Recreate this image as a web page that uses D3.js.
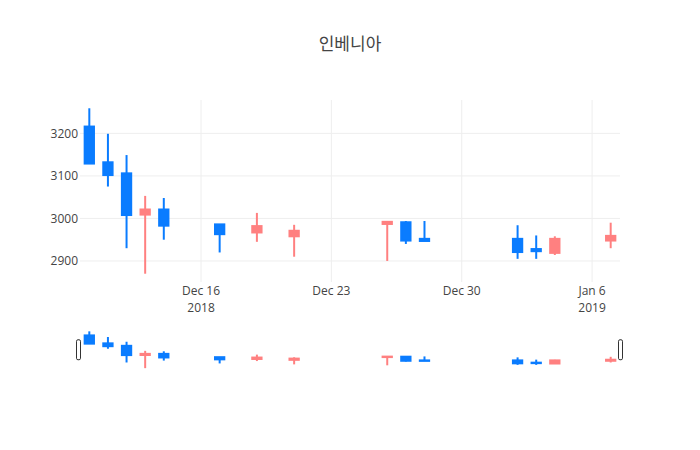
<!DOCTYPE html>
<html>
<head>
<meta charset="utf-8">
<script src="https://cdn.jsdelivr.net/npm/d3@7"></script>
<style>
  html, body { margin: 0; padding: 0; background: #fff; }
  svg { display: block; font-family: "Open Sans", "Noto Sans CJK KR", sans-serif; }
</style>
</head>
<body>
<svg id="chart" width="700" height="450"></svg>
<script>
const title = "인베니아";
const dates = ["2018-12-10","2018-12-11","2018-12-12","2018-12-13","2018-12-14","2018-12-17","2018-12-19","2018-12-21","2018-12-26","2018-12-27","2018-12-28","2019-01-02","2019-01-03","2019-01-04","2019-01-07"];
const openV  = [3216, 3132, 3106, 3009, 3021, 2986, 2967, 2958, 2987, 2991, 2952, 2952, 2928, 2919, 2948];
const highV  = [3259, 3199, 3149, 3053, 3048, 2986, 3013, 2985, 2992, 2994, 2994, 2984, 2960, 2958, 2990];
const lowV   = [3129, 3075, 2930, 2870, 2950, 2920, 2945, 2910, 2900, 2940, 2947, 2905, 2905, 2914, 2930];
const closeV = [3129, 3102, 3008, 3021, 2983, 2963, 2982, 2971, 2992, 2948, 2947, 2921, 2923, 2952, 2959];
const yTicks = [2900, 3000, 3100, 3200];
const xTickDates = ["2018-12-16","2018-12-23","2018-12-30","2019-01-06"];
const xTickLabels = [["Dec 16","2018"],["Dec 23"],["Dec 30"],["Jan 6","2019"]];

const incColor = "#ff8080";
const decColor = "#0a7cff";

const svg = d3.select("#chart");
const W = 700, H = 450;
const plot = {left: 80, right: 620, top: 100, bottom: 282};
const slider = {top: 329.5, bottom: 370};

const DAY = 86400000;
const parse = d3.utcParse("%Y-%m-%d");
const data = dates.map((d, i) => ({date: parse(d), o: openV[i], h: highV[i], l: lowV[i], c: closeV[i]}));

const x = d3.scaleUtc()
  .domain([new Date(+data[0].date - DAY/2), new Date(+data[data.length-1].date + DAY/2)])
  .range([plot.left, plot.right]);

const minV = d3.min(lowV), maxV = d3.max(highV), pad = (maxV - minV) * 0.05;
const y = d3.scaleLinear().domain([minV - pad, maxV + pad]).range([plot.bottom, plot.top]);
const ys = d3.scaleLinear().domain([minV - pad, maxV + pad]).range([slider.bottom, slider.top]);

// Title
svg.append("text").attr("x", W/2).attr("y", 50)
  .attr("text-anchor", "middle")
  .style("font-family", "'Noto Sans CJK KR', 'Open Sans', sans-serif")
  .style("font-size", "17px").style("fill", "#444").text(title);

// Grid
const grid = svg.append("g");
grid.selectAll(".hg").data(yTicks).enter().append("line")
  .attr("x1", plot.left).attr("x2", plot.right)
  .attr("y1", d => y(d)).attr("y2", d => y(d))
  .attr("stroke", "#eee").attr("stroke-width", 1);
grid.selectAll(".vg").data(xTickDates).enter().append("line")
  .attr("x1", d => x(parse(d))).attr("x2", d => x(parse(d)))
  .attr("y1", plot.top).attr("y2", plot.bottom)
  .attr("stroke", "#eee").attr("stroke-width", 1);

// Y axis labels
const yAxis = d3.axisLeft(y).tickValues(yTicks).tickFormat(d3.format("d")).tickSize(0).tickPadding(2);
const gy = svg.append("g").attr("transform", `translate(${plot.left},0)`).call(yAxis);
gy.select(".domain").remove();
gy.selectAll("text").style("font-size", "12px").style("fill", "#444").style("font-family", "'Open Sans', sans-serif");

// X axis labels
const gx = svg.append("g");
xTickDates.forEach((d, i) => {
  const t = gx.append("text").attr("x", x(parse(d))).attr("y", 294.5)
    .attr("text-anchor", "middle").style("font-size", "12px").style("fill", "#444");
  xTickLabels[i].forEach((line, j) => {
    t.append("tspan").attr("x", x(parse(d))).attr("dy", j === 0 ? 0 : 17).text(line);
  });
});

// Clip
svg.append("clipPath").attr("id", "clipMain").append("rect")
  .attr("x", plot.left).attr("y", plot.top).attr("width", plot.right - plot.left).attr("height", plot.bottom - plot.top);

function drawCandles(g, yScale) {
  const bw = x(new Date(DAY * 0.5)) - x(new Date(0));
  data.forEach(d => {
    const col = d.c >= d.o ? incColor : decColor;
    const cx = x(d.date);
    const top = yScale(Math.max(d.o, d.c)), bot = yScale(Math.min(d.o, d.c));
    g.append("line").attr("x1", cx).attr("x2", cx)
      .attr("y1", yScale(d.h)).attr("y2", yScale(d.l))
      .attr("stroke", col).attr("stroke-width", 2);
    g.append("rect").attr("x", cx - bw/2).attr("width", bw)
      .attr("y", top).attr("height", Math.max(0, bot - top))
      .attr("fill", col).attr("stroke", col).attr("stroke-width", 2);
  });
}

drawCandles(svg.append("g").attr("clip-path", "url(#clipMain)"), y);

// Range slider
svg.append("rect").attr("x", plot.left).attr("y", slider.top)
  .attr("width", plot.right - plot.left).attr("height", slider.bottom - slider.top)
  .attr("fill", "#fff");
drawCandles(svg.append("g"), ys);

const hMid = (slider.top + slider.bottom) / 2;
[plot.left - 1.5, plot.right + 0.5].forEach(hx => {
  svg.append("rect").attr("x", hx - 2).attr("y", hMid - 10)
    .attr("width", 4).attr("height", 20).attr("rx", 1.5).attr("ry", 1.5)
    .attr("fill", "#fff").attr("stroke", "#333").attr("stroke-width", 1);
});
</script>
</body>
</html>
